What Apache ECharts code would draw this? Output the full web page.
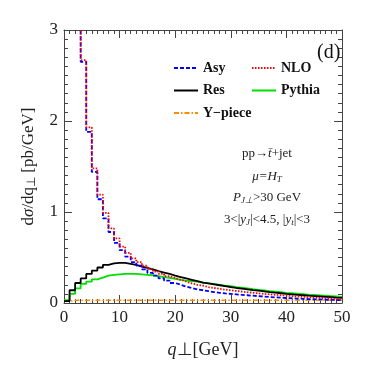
<!DOCTYPE html>
<html><head><meta charset="utf-8">
<script src="https://cdn.jsdelivr.net/npm/echarts@6/dist/echarts.min.js"></script>
<style>html,body{margin:0;padding:0;background:#fff}#c{width:366px;height:366px}</style>
</head><body><div id="c"></div>
<script>
// bin k = [k, k+1] GeV
const binEdges = Array.from({length: 51}, (_, i) => i);
const asy = [10, 6, 3.7, 2.65, 1.88, 1.44, 1.14, 0.93, 0.78, 0.66, 0.58, 0.51, 0.45, 0.41, 0.37, 0.33, 0.30, 0.27, 0.245, 0.22, 0.20, 0.18, 0.165, 0.15, 0.14, 0.13, 0.12, 0.112, 0.105, 0.10, 0.095, 0.09, 0.085, 0.08, 0.075, 0.07, 0.066, 0.062, 0.058, 0.055, 0.052, 0.049, 0.046, 0.043, 0.041, 0.039, 0.037, 0.035, 0.033, 0.031];
const nlo = [10, 6, 3.8, 2.67, 1.93, 1.48, 1.19, 0.99, 0.82, 0.71, 0.62, 0.55, 0.49, 0.45, 0.41, 0.375, 0.345, 0.32, 0.295, 0.275, 0.255, 0.235, 0.215, 0.20, 0.19, 0.175, 0.165, 0.155, 0.147, 0.14, 0.132, 0.125, 0.118, 0.112, 0.106, 0.10, 0.095, 0.09, 0.085, 0.08, 0.076, 0.072, 0.068, 0.064, 0.06, 0.056, 0.053, 0.05, 0.047, 0.044];
const res = [0.02, 0.14, 0.22, 0.27, 0.32, 0.355, 0.39, 0.42, 0.435, 0.44, 0.44, 0.43, 0.42, 0.40, 0.385, 0.37, 0.35, 0.335, 0.32, 0.30, 0.285, 0.27, 0.255, 0.24, 0.225, 0.215, 0.205, 0.195, 0.185, 0.175, 0.165, 0.158, 0.15, 0.142, 0.135, 0.128, 0.12, 0.113, 0.107, 0.10, 0.095, 0.09, 0.085, 0.08, 0.076, 0.072, 0.068, 0.064, 0.06, 0.057];
const pythia = [0.03, 0.10, 0.16, 0.21, 0.235, 0.26, 0.28, 0.30, 0.31, 0.315, 0.32, 0.32, 0.32, 0.315, 0.31, 0.305, 0.295, 0.285, 0.275, 0.265, 0.255, 0.245, 0.24, 0.235, 0.225, 0.215, 0.21, 0.20, 0.19, 0.185, 0.175, 0.168, 0.16, 0.152, 0.145, 0.138, 0.13, 0.124, 0.118, 0.112, 0.107, 0.102, 0.097, 0.092, 0.088, 0.084, 0.08, 0.076, 0.072, 0.068];
const ypiece = [0.02, 0.03, 0.03, 0.03, 0.03, 0.03, 0.03, 0.03, 0.03, 0.03, 0.03, 0.03, 0.03, 0.03, 0.03, 0.03, 0.03, 0.03, 0.03, 0.03, 0.03, 0.03, 0.03, 0.03, 0.03, 0.03, 0.03, 0.03, 0.03, 0.03, 0.03, 0.03, 0.03, 0.03, 0.03, 0.03, 0.03, 0.03, 0.03, 0.03, 0.03, 0.03, 0.03, 0.03, 0.03, 0.03, 0.03, 0.03, 0.03, 0.03];
const xTicks = [0, 10, 20, 30, 40, 50];
const yTicks = [0, 1, 2, 3];

function hist(v) {
  return binEdges.map((e, i) => [e, v[Math.min(i, v.length - 1)]]);
}
const serif = 'Liberation Serif';
const frameColor = '#444';
function axisCommon(show) {
  return {
    axisLine: {show: true, onZero: false, lineStyle: {color: frameColor, width: 1}},
    axisTick: {show: true, inside: true, length: 8, lineStyle: {color: frameColor}},
    minorTick: {show: true, splitNumber: 10, length: 4, lineStyle: {color: frameColor}},
    splitLine: {show: false},
    axisLabel: {show: show, fontFamily: serif, fontSize: 17, color: '#222', margin: 6}
  };
}
const chart = echarts.init(document.getElementById('c'));
const legendText = {fontFamily: serif, fontWeight: 'bold', fontSize: 14, color: '#111'};
const legendBase = {orient: 'vertical', top: 56, itemWidth: 24, itemHeight: 14, itemGap: 8.5, textStyle: legendText, selectedMode: false, itemStyle: {opacity: 0}};
chart.setOption({
  animation: false,
  grid: {left: 64, right: 24, top: 30, bottom: 63},
  xAxis: [
    Object.assign(axisCommon(true), {type: 'value', min: xTicks[0], max: xTicks[xTicks.length - 1], interval: 10,
      name: '{i|q}{n|⊥[GeV]}', nameLocation: 'middle', nameGap: 38,
      nameTextStyle: {rich: {i: {fontFamily: serif, fontStyle: 'italic', fontSize: 18, color: '#222'}, n: {fontFamily: serif, fontSize: 18, color: '#222'}}}}),
    Object.assign(axisCommon(false), {type: 'value', position: 'top', min: xTicks[0], max: xTicks[xTicks.length - 1], interval: 10})
  ],
  yAxis: [
    Object.assign(axisCommon(true), {type: 'value', min: yTicks[0], max: yTicks[yTicks.length - 1], interval: 1,
      name: '{n|d}{i|σ}{n|/dq}{s|⊥}{n| [pb/GeV]}', nameLocation: 'middle', nameGap: 26,
      nameTextStyle: {rich: {i: {fontFamily: serif, fontStyle: 'italic', fontSize: 17, color: '#222'}, n: {fontFamily: serif, fontSize: 17, color: '#222'}, s: {fontFamily: serif, fontSize: 12, color: '#222', padding: [6, 0, 0, 0]}}}}),
    Object.assign(axisCommon(false), {type: 'value', position: 'right', min: yTicks[0], max: yTicks[yTicks.length - 1], interval: 1})
  ],
  legend: [
    Object.assign({data: ['Asy', 'Res', 'Y−piece'], left: 168}, legendBase),
    Object.assign({data: ['NLO', 'Pythia'], left: 246}, legendBase)
  ],
  title: [
    {text: '(d)', left: 312, top: 38, textStyle: {fontFamily: serif, fontSize: 20, fontWeight: 'normal', color: '#111'}},
    {text: 'pp→{i|t̄}+jet', left: 262, top: 142, textAlign: 'center', textStyle: {fontFamily: serif, fontSize: 13, fontWeight: 'normal', color: '#222', rich: {i: {fontFamily: serif, fontStyle: 'italic', fontSize: 13, color: '#222'}}}},
    {text: '{i|μ}=H{s|T}', left: 262, top: 164, textAlign: 'center', textStyle: {fontFamily: serif, fontSize: 13, fontStyle: 'italic', fontWeight: 'normal', color: '#222', rich: {i: {fontFamily: serif, fontStyle: 'italic', fontSize: 13, color: '#222'}, s: {fontFamily: serif, fontStyle: 'italic', fontSize: 9, color: '#222', padding: [6, 0, 0, 0]}}}},
    {text: '{i|P}{s|J⊥}>30 GeV', left: 262, top: 185, textAlign: 'center', textStyle: {fontFamily: serif, fontSize: 13, fontWeight: 'normal', color: '#222', rich: {i: {fontFamily: serif, fontStyle: 'italic', fontSize: 13, color: '#222'}, s: {fontFamily: serif, fontStyle: 'italic', fontSize: 9, color: '#222', padding: [6, 0, 0, 0]}}}},
    {text: '3<|{i|y}{s|J}|<4.5, |{i|y}{s|t}|<3', left: 262, top: 207, textAlign: 'center', textStyle: {fontFamily: serif, fontSize: 13, fontWeight: 'normal', color: '#222', rich: {i: {fontFamily: serif, fontStyle: 'italic', fontSize: 13, color: '#222'}, s: {fontFamily: serif, fontStyle: 'italic', fontSize: 9, color: '#222', padding: [6, 0, 0, 0]}}}}
  ],
  series: [
    {name: 'Y−piece', type: 'line', step: 'end', symbol: 'none', data: hist(ypiece), lineStyle: {color: '#ff8c00', width: 1.5, type: [5, 2, 1.5, 2]}, itemStyle: {color: '#ff8c00'}},
    {name: 'Pythia', type: 'line', step: 'end', symbol: 'none', data: hist(pythia), lineStyle: {color: '#00e000', width: 1.8}, itemStyle: {color: '#00e000'}},
    {name: 'Res', type: 'line', step: 'end', symbol: 'none', data: hist(res), lineStyle: {color: '#000', width: 1.8}, itemStyle: {color: '#000'}},
    {name: 'Asy', type: 'line', step: 'end', symbol: 'none', data: hist(asy), lineStyle: {color: '#0000ff', width: 1.8, type: [4, 2]}, itemStyle: {color: '#0000ff'}},
    {name: 'NLO', type: 'line', step: 'end', symbol: 'none', data: hist(nlo), lineStyle: {color: '#ff0000', width: 1.8, type: [1.5, 1.5]}, itemStyle: {color: '#ff0000'}}
  ]
});
</script></body></html>
